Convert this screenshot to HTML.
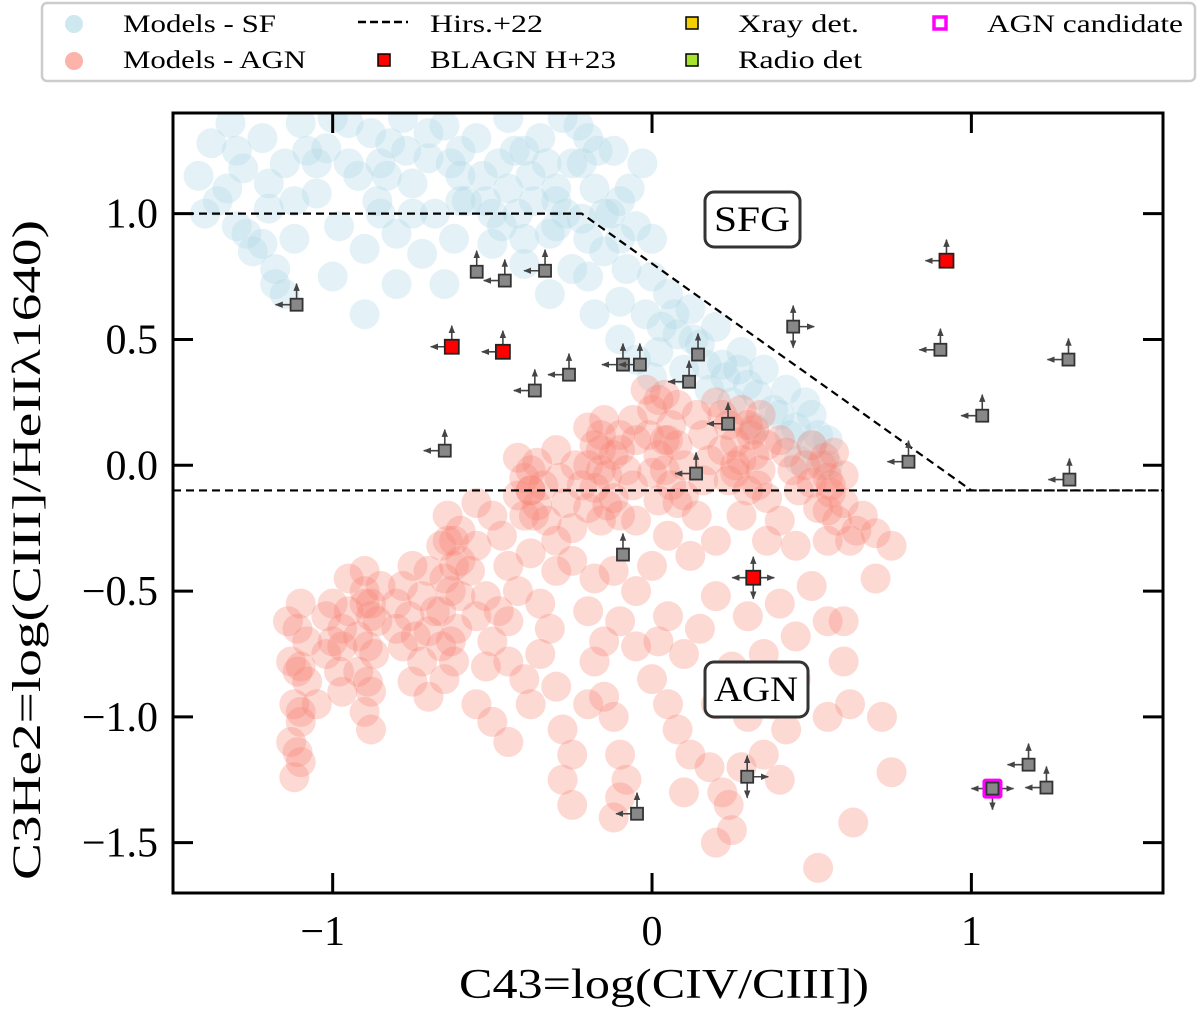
<!DOCTYPE html>
<html><head><meta charset="utf-8"><style>
html,body{margin:0;padding:0;background:#fff;}
svg{display:block;font-family:"Liberation Serif",serif;}
</style></head><body>
<svg id="chart" width="1200" height="1012" viewBox="0 0 1200 1012" xmlns="http://www.w3.org/2000/svg">
<defs><clipPath id="clip"><rect x="173" y="113" width="990" height="780"/></clipPath>
<marker id="ah" viewBox="0 0 10 10" refX="9" refY="5" markerWidth="5" markerHeight="5" orient="auto"><path d="M0,1 L10,5 L0,9 z" fill="#444"/></marker></defs>
<g id="sf" clip-path="url(#clip)"></g>
<g id="agn" clip-path="url(#clip)"></g>
<g id="lines" clip-path="url(#clip)"></g>
<g id="obs"></g>
<rect x="173" y="113" width="990" height="780" fill="none" stroke="#000" stroke-width="3"/>
<g id="ticks"></g>
<g><rect x="705" y="192" width="95" height="55" rx="9" fill="#fff" stroke="#333" stroke-width="3"/><text x="752" y="231" font-size="36" text-anchor="middle" textLength="76" lengthAdjust="spacingAndGlyphs">SFG</text></g>
<g><rect x="705" y="662" width="103" height="55" rx="9" fill="#fff" stroke="#333" stroke-width="3"/><text x="756" y="701" font-size="36" text-anchor="middle" textLength="84" lengthAdjust="spacingAndGlyphs">AGN</text></g>
<text x="664" y="998" font-size="42" text-anchor="middle" textLength="410" lengthAdjust="spacingAndGlyphs">C43=log(CIV/CIII])</text>
<text transform="translate(40,550) rotate(-90)" font-size="40" text-anchor="middle" textLength="660" lengthAdjust="spacingAndGlyphs">C3He2=log(CIII]/HeIIλ1640)</text>
<g>
<rect x="42" y="3" width="1153" height="78" rx="5" fill="#fff" stroke="#ccc" stroke-width="2.5"/>
<g><circle cx="74" cy="24" r="9" fill="#add8e6" opacity="0.6"/><text x="123" y="32" font-size="25" textLength="153" lengthAdjust="spacingAndGlyphs">Models - SF</text></g>
<g><circle cx="74" cy="61" r="9" fill="#fa8072" opacity="0.6"/><text x="123" y="68" font-size="25" textLength="183" lengthAdjust="spacingAndGlyphs">Models - AGN</text></g>
<g><line x1="358" y1="22" x2="408" y2="22" stroke="#000" stroke-width="2.5" stroke-dasharray="8,4"/><text x="430" y="32" font-size="25" textLength="113" lengthAdjust="spacingAndGlyphs">Hirs.+22</text></g>
<g><rect x="378" y="54" width="12" height="12" fill="#f00" stroke="#000" stroke-width="1.5"/><text x="430" y="68" font-size="25" textLength="186" lengthAdjust="spacingAndGlyphs">BLAGN H+23</text></g>
<g><rect x="686" y="17" width="12" height="12" fill="#f5d000" stroke="#000" stroke-width="1.5"/><text x="738" y="32" font-size="25" textLength="121" lengthAdjust="spacingAndGlyphs">Xray det.</text></g>
<g><rect x="686" y="54" width="12" height="12" fill="#a6e22e" stroke="#000" stroke-width="1.5"/><text x="738" y="68" font-size="25" textLength="124" lengthAdjust="spacingAndGlyphs">Radio det</text></g>
<g><rect x="934" y="17" width="12" height="12" fill="#fff" stroke="#f0f" stroke-width="3.5"/><text x="987" y="32" font-size="25" textLength="196" lengthAdjust="spacingAndGlyphs">AGN candidate</text></g>
</g>
</svg>
<script>
const sfX=[-1.42,-1.38,-1.36,-1.32,-1.3,-1.28,-1.25,-1.22,-1.2,-1.18,-1.15,-1.15,-1.12,-1.1,-1.05,-1.02,-0.98,-0.95,-0.92,-0.9,-0.86,-0.82,-0.8,-0.78,-0.75,-0.72,-0.7,-0.68,-0.65,-0.62,-0.6,-1.0,-0.9,-0.8,-0.65,-0.55,-0.52,-0.5,-0.48,-0.45,-0.42,-0.4,-0.38,-0.35,-0.32,-0.3,-0.28,-0.25,-0.22,-0.2,-0.18,-0.15,-0.12,-0.1,-0.08,-0.05,-0.32,-0.25,-0.18,0.0,-0.02,0.05,0.08,0.02,0.12,0.15,0.1,0.2,0.22,0.18,0.28,0.3,0.25,0.35,0.38,0.42,0.45,0.5,0.5,0.55,0.32,0.46,0.55,-0.1,-0.05,0.0,-1.3,-1.05,-0.85,-0.6,-0.4,-0.22,-0.45,-0.3,-0.15,
-1.4,-1.33,-1.27,-1.2,-1.12,-1.08,-1.0,-0.95,-0.88,-0.83,-0.77,-0.7,-0.63,-0.58,-0.53,-0.47,-0.43,-0.37,-0.33,-0.27,-0.23,-0.17,-0.13,-0.07,-0.03,-0.6,-0.5,-0.4,-0.3,-0.2,-0.1,0.0,-0.2,-0.1,0.03,0.07,0.13,0.17,0.23,0.27,0.33,0.4,0.43,0.48,0.52,-0.85,-0.75,-1.18,-1.22];
const sfY=[1.15,1.28,1.05,1.36,0.95,1.18,0.85,1.3,1.02,0.78,0.68,1.2,0.9,1.36,1.08,1.26,0.95,1.36,1.15,0.86,1.05,1.28,0.92,1.38,1.12,0.84,1.22,1.0,1.35,0.9,1.15,0.75,0.6,0.72,0.72,1.3,1.05,0.88,1.2,1.38,1.0,0.8,1.15,1.3,0.92,1.1,1.38,1.2,0.98,1.3,1.1,0.85,1.25,1.05,0.78,0.95,0.68,0.78,0.6,0.75,0.6,0.68,0.52,0.45,0.62,0.48,0.38,0.55,0.4,0.3,0.45,0.32,0.25,0.38,0.22,0.3,0.15,0.2,0.08,0.1,0.15,0.02,0.0,0.5,0.42,0.35,1.25,1.2,1.2,1.25,1.25,1.2,1.1,1.05,1.0,
1.0,1.1,0.92,1.12,1.05,1.25,1.38,1.2,1.32,1.15,1.25,1.32,1.2,1.05,1.15,0.95,1.25,1.05,1.2,1.0,1.35,1.25,1.0,1.1,1.2,1.05,1.0,0.9,0.95,0.9,0.9,0.9,0.75,0.65,0.55,0.6,0.5,0.4,0.35,0.38,0.28,0.2,0.12,0.25,0.12,1.0,1.0,0.72,0.88];
const agnX=[-0.2,-0.15,-0.1,-0.18,-0.12,-0.2,-0.14,-0.08,-0.18,-0.12,-0.2,-0.1,-0.16,
-0.02,0.04,0.08,0.0,0.06,-0.01,0.08,0.02,0.1,0.0,0.06,0.1,0.02,
0.2,0.28,0.34,0.24,0.31,0.36,0.22,0.28,0.34,0.24,0.3,0.36,0.14,0.16,0.42,0.44,
0.5,0.57,0.53,0.6,0.5,0.56,0.6,0.52,0.58,0.64,0.46,0.62,
-0.42,-0.36,-0.4,-0.34,-0.42,-0.36,-0.4,-0.33,-0.29,-0.27,-0.3,
-0.25,-0.05,0.05,0.14,0.2,0.28,0.4,0.45,0.55,0.7,0.75,-0.3,0.12,0.36,0.66,
-0.55,-0.5,-0.47,-0.55,-0.45,-0.38,-0.3,-0.25,-0.18,-0.12,-0.05,0.0,
-0.64,-0.6,-0.66,-0.6,-0.65,-0.6,-0.66,-0.61,-0.66,-0.62,-0.65,
-0.78,-0.72,-0.76,-0.7,-0.78,-0.72,-0.75,-0.7,-0.55,-0.5,-0.52,-0.45,
-0.9,-0.85,-0.9,-0.86,-0.92,-0.87,-0.92,-0.88,-0.9,-0.88,
-1.0,-0.97,-1.02,-0.98,-1.0,-0.95,
-1.1,-1.14,-1.08,-1.13,-1.08,-1.12,-1.1,-1.13,-1.1,-1.12,
-0.55,-0.5,-0.45,-0.4,-0.38,-0.35,-0.32,-0.3,-0.28,-0.25,-0.28,-0.25,
-0.18,-0.15,-0.12,-0.1,-0.08,-0.1,-0.12,-0.05,
0.0,0.05,0.08,0.1,0.15,0.12,0.18,0.2,0.22,0.24,0.28,0.25,0.2,
0.3,0.35,0.4,0.45,0.38,0.42,0.35,0.45,0.5,0.55,0.6,0.55,0.62,0.7,0.72,0.75,0.63,0.52,0.2,0.05,-0.1,
-0.16,-0.06,0.04,0.26,0.32,0.55,-0.38,-0.62,-0.88,-1.1,-0.64,-0.9,
-0.16,-0.1,-0.16,-0.14,0.02,0.05,0.04,0.08,0.22,0.3,0.26,0.32,0.26,0.33,0.54,0.56,0.55,-0.38,-0.38,-0.37,-0.24,-0.22,0.18,0.16,0.4,0.48,-0.05,-0.06,
-0.62,-0.63,-0.63,-0.88,-0.89,-0.89,-1.11,-1.11,-1.1,-1.11,-1.02,-0.97,-0.8,-0.74,-0.68,-0.57,-0.52,-0.48,-0.42,-0.35,-0.7,-0.8,-0.97,-1.05,-0.95,-0.75,
-0.2,-0.15,0.02,0.25,0.3,0.4,0.1,-0.2,-0.45,0.6];
const agnY=[0.15,0.18,0.12,0.08,0.04,0.0,-0.04,-0.02,-0.09,-0.13,-0.17,-0.2,-0.22,
0.3,0.28,0.24,0.22,0.16,0.12,0.08,0.04,0.0,-0.03,-0.08,-0.12,-0.14,
0.25,0.22,0.2,0.16,0.12,0.08,0.06,0.02,-0.02,-0.06,-0.1,-0.13,0.2,0.12,0.05,-0.02,
0.08,0.05,0.0,-0.04,-0.07,-0.11,-0.15,-0.17,-0.22,-0.26,-0.1,-0.3,
0.03,0.01,-0.05,-0.08,-0.12,-0.16,-0.2,-0.22,-0.05,-0.15,0.06,
-0.25,-0.22,-0.28,-0.2,-0.3,-0.2,-0.22,-0.32,-0.3,-0.27,-0.32,-0.3,-0.36,-0.3,-0.2,
-0.15,-0.2,-0.28,-0.32,-0.4,-0.35,-0.42,-0.38,-0.45,-0.42,-0.5,-0.4,
-0.2,-0.26,-0.32,-0.38,-0.45,-0.52,-0.58,-0.65,-0.72,-0.78,-0.85,
-0.48,-0.52,-0.6,-0.66,-0.72,-0.78,-0.86,-0.92,-0.6,-0.7,-0.8,-0.62,
-0.42,-0.48,-0.55,-0.62,-0.68,-0.75,-0.82,-0.9,-0.98,-1.05,
-0.55,-0.65,-0.75,-0.82,-0.7,-0.58,
-0.55,-0.62,-0.7,-0.78,-0.86,-0.95,-1.02,-1.1,-1.18,-1.24,
-0.95,-1.02,-1.1,-0.85,-0.95,-0.75,-0.65,-0.88,-1.05,-1.15,-1.25,-1.35,
-0.78,-0.92,-1.0,-1.15,-1.25,-1.32,-1.4,-0.72,
-0.85,-0.95,-1.05,-0.75,-0.65,-1.15,-1.2,-0.95,-1.3,-1.35,-1.2,-1.45,-1.5,
-0.6,-0.75,-0.55,-0.68,-0.95,-1.05,-1.15,-0.85,-0.48,-0.62,-0.78,-1.0,-0.95,-0.45,-1.0,-1.22,-1.42,-1.6,-0.52,-0.6,-0.62,
0.06,0.18,0.1,0.0,0.14,-0.05,-0.1,-0.4,-0.6,-0.8,-0.3,-0.5,
0.12,0.06,-0.02,-0.16,0.26,0.1,-0.02,-0.15,0.2,0.16,0.09,0.04,-0.03,-0.08,0.03,-0.08,-0.18,-0.02,-0.1,-0.2,0.0,-0.08,0.02,-0.06,0.1,0.0,0.1,-0.08,
-0.3,-0.5,-0.7,-0.55,-0.72,-0.86,-0.65,-0.82,-0.98,-1.14,-0.6,-0.72,-0.55,-0.68,-0.58,-0.42,-0.52,-0.58,-0.5,-0.55,-0.42,-0.65,-0.9,-0.95,-0.45,-0.4,
-0.58,-0.7,-0.7,-0.8,-1.0,-1.25,-1.3,-0.95,-0.78,-0.62];
// upper-limit sources: dirs L=left, U=up, R=right, D=down
const obsX=[-1.113,-0.549,-0.461,-0.335,-0.367,-0.26,-0.649,-0.091,-0.038,0.116,0.144,0.238,0.138,-0.091,0.442,0.903,1.034,1.304,0.803,1.307,0.298,-0.047,1.179,1.235,1.066];
const obsY=[0.638,0.769,0.734,0.773,0.297,0.36,0.058,0.4,0.4,0.332,0.44,0.165,-0.033,-0.355,0.551,0.459,0.197,0.42,0.014,-0.057,-1.238,-1.385,-1.19,-1.281,-1.285];
const obsDir=["LU","U","LU","LU","LU","LU","LU","LU","LU","LU","U","LU","LU","U","URD","LU","LU","LU","LU","LU","URD","LU","LU","LU","LRD"];
const obsCand=[0,0,0,0,0,0,0,0,0,0,0,0,0,0,0,0,0,0,0,0,0,0,0,0,1];
const blX=[-0.627,-0.467,0.922,0.317];
const blY=[0.471,0.451,0.813,-0.447];
const blDir=["LU","LU","LU","LURD"];
const hirsX=[-1.5,-0.22,1.0,1.6];
const hirsY=[1.0,1.0,-0.1,-0.1];
const hLineY=-0.1;
const xTicks=[-1,0,1];
const yTicks=[-1.5,-1.0,-0.5,0.0,0.5,1.0];
const xTickLabels=["\u22121","0","1"];
const yTickLabels=["\u22121.5","\u22121.0","\u22120.5","0.0","0.5","1.0"];

const NS="http://www.w3.org/2000/svg";
function X(v){return 173+(v+1.5)/3.1*990;}
function Y(v){return 113+(1.4-v)/3.1*780;}
function mk(tag,attrs,parent){const e=document.createElementNS(NS,tag);for(const k in attrs)e.setAttribute(k,attrs[k]);parent.appendChild(e);return e;}

const gsf=document.getElementById('sf');
sfX.forEach((x,i)=>{const c=mk('circle',{cx:X(x),cy:Y(sfY[i]),r:15,fill:'#add8e6','fill-opacity':0.33},gsf);

});
const gagn=document.getElementById('agn');
agnX.forEach((x,i)=>{const c=mk('circle',{cx:X(x),cy:Y(agnY[i]),r:15,fill:'#fa8072','fill-opacity':0.3},gagn);

});

const gl=document.getElementById('lines');
const pl=mk('polyline',{points:hirsX.map((x,i)=>X(x)+','+Y(hirsY[i])).join(' '),fill:'none',stroke:'#000','stroke-width':2.2,'stroke-dasharray':'8,5'},gl);


const hl=mk('line',{x1:173,x2:1163,y1:Y(hLineY),y2:Y(hLineY),stroke:'#000','stroke-width':2.2,'stroke-dasharray':'8,5'},gl);



const go=document.getElementById('obs');
function arrows(cx,cy,dirs,g){
 const d={L:[-21,0],R:[21,0],U:[0,-21],D:[0,21]};
 for(const ch of dirs){mk('line',{x1:cx,y1:cy,x2:cx+d[ch][0],y2:cy+d[ch][1],stroke:'#444','stroke-width':1.6,'marker-end':'url(#ah)'},g);}
}
obsX.forEach((x,i)=>{const cx=X(x),cy=Y(obsY[i]);
 const g=mk('g',{},go);
 
 
 arrows(cx,cy,obsDir[i],g);
 if(obsCand[i]) mk('rect',{x:cx-10,y:cy-10,width:20,height:20,rx:3,fill:'#f0f'},g);
 mk('rect',{x:cx-6,y:cy-6,width:12,height:12,fill:'#888',stroke:'#333','stroke-width':1.8},g);
});
blX.forEach((x,i)=>{const cx=X(x),cy=Y(blY[i]);
 const g=mk('g',{},go);
 
 
 arrows(cx,cy,blDir[i],g);
 mk('rect',{x:cx-7,y:cy-7,width:14,height:14,fill:'#f00',stroke:'#222','stroke-width':1.8},g);
});

const gt=document.getElementById('ticks');
xTicks.forEach((v,i)=>{const x=X(v);
 mk('line',{x1:x,x2:x,y1:893,y2:873,stroke:'#000','stroke-width':3},gt);
 mk('line',{x1:x,x2:x,y1:113,y2:133,stroke:'#000','stroke-width':3},gt);
 const t=mk('text',{x:x-(v<0?10:0),y:945,'font-size':42,'text-anchor':'middle'},gt);t.textContent=xTickLabels[i];
 
 
});
yTicks.forEach((v,i)=>{const y=Y(v);
 mk('line',{x1:173,x2:193,y1:y,y2:y,stroke:'#000','stroke-width':3},gt);
 mk('line',{x1:1163,x2:1143,y1:y,y2:y,stroke:'#000','stroke-width':3},gt);
 const t=mk('text',{x:158,y:y+14,'font-size':42,'text-anchor':'end'},gt);t.textContent=yTickLabels[i];
 
 
});
</script>
</body></html>
